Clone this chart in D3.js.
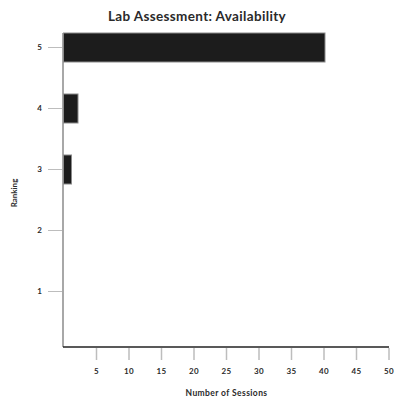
<!DOCTYPE html>
<html>
<head>
<meta charset="utf-8">
<script src="https://cdn.jsdelivr.net/npm/d3@7"></script>
<style>
  body { margin: 0; background: #fff; }
  svg { display: block; }
  text { font-family: "Lato", "DejaVu Sans", sans-serif; font-weight: bold; fill: #2a2a2a; }
</style>
</head>
<body>
<svg id="chart" width="394" height="400"></svg>
<script>
const title = "Lab Assessment: Availability";
const rankings = [1, 2, 3, 4, 5];
const sessions = [0, 0, 1, 2, 40];
const xTicks = [5, 10, 15, 20, 25, 30, 35, 40, 45, 50];
const xLabel = "Number of Sessions";
const yLabel = "Ranking";

const svg = d3.select("#chart");
const x = d3.scaleLinear().domain([0, 50]).range([64, 389]);
const y = d3.scaleLinear().domain([1, 5]).range([291.5, 47.5]);
const barH = 29;
const yTop = 33, yBottom = 347;

// y axis line
svg.append("line")
  .attr("x1", 63).attr("x2", 63).attr("y1", yTop).attr("y2", yBottom)
  .attr("stroke", "#a8a8a8").attr("stroke-width", 2);

// y ticks
const yg = svg.append("g");
yg.selectAll("line").data(rankings).join("line")
  .attr("x1", 48).attr("x2", 62).attr("y1", d => y(d)).attr("y2", d => y(d))
  .attr("stroke", "#bdbdbd").attr("stroke-width", 1);
yg.selectAll("text").data(rankings).join("text")
  .attr("x", 42).attr("y", d => y(d)).attr("dy", "0.35em")
  .attr("text-anchor", "end").attr("font-size", 8).text(d => d);

// bars
svg.append("g").selectAll("rect")
  .data(rankings.map((r, i) => ({ r, v: sessions[i] })).filter(d => d.v > 0))
  .join("rect")
  .attr("x", 63.5)
  .attr("y", d => y(d.r) - barH / 2)
  .attr("width", d => x(d.v) - 63.5 + 1)
  .attr("height", barH)
  .attr("fill", "#1c1c1c")
  .attr("stroke", "#8a8a8a").attr("stroke-width", 1);

// x axis line
svg.append("line")
  .attr("x1", 63).attr("x2", 389).attr("y1", yBottom).attr("y2", yBottom)
  .attr("stroke", "#222").attr("stroke-width", 1.5);

// x ticks
const xg = svg.append("g");
xg.selectAll("line").data(xTicks).join("line")
  .attr("x1", d => x(d)).attr("x2", d => x(d)).attr("y1", yBottom + 1).attr("y2", 360)
  .attr("stroke", "#bdbdbd").attr("stroke-width", 1.5);
xg.selectAll("text").data(xTicks).join("text")
  .attr("x", d => x(d)).attr("y", 371).attr("dy", "0.35em")
  .attr("text-anchor", "middle").attr("font-size", 8).attr("letter-spacing", 0.3).text(d => d);

// titles
svg.append("text").attr("x", 197).attr("y", 21).attr("text-anchor", "middle")
  .attr("font-size", 13.5).attr("letter-spacing", 0.35).text(title);
svg.append("text").attr("x", 226.5).attr("y", 396).attr("text-anchor", "middle")
  .attr("font-size", 8.5).attr("letter-spacing", 0.4).text(xLabel);
svg.append("text").attr("transform", "translate(17,193) rotate(-90)")
  .attr("text-anchor", "middle").attr("font-size", 8).text(yLabel);
</script>
</body>
</html>
